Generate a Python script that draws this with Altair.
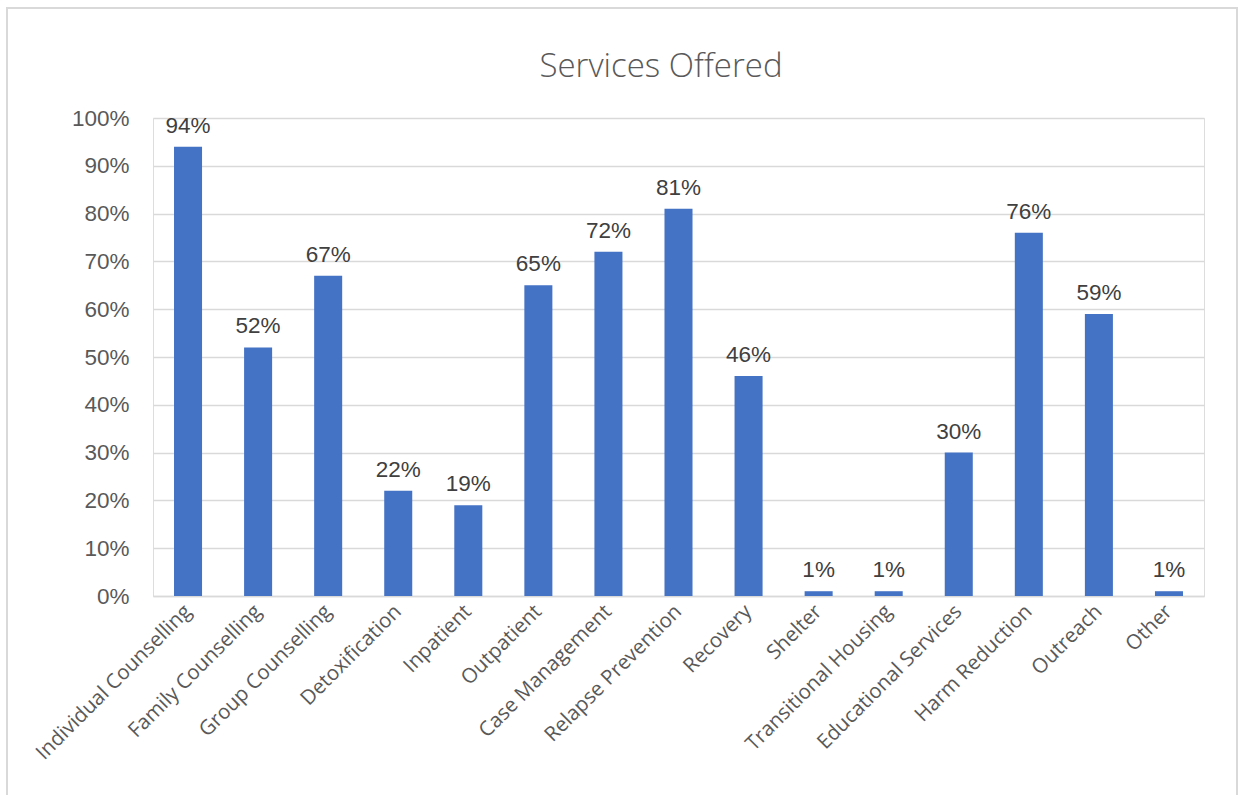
import altair as alt
import pandas as pd

categories = ["Individual Counselling", "Family Counselling", "Group Counselling",
              "Detoxification", "Inpatient", "Outpatient", "Case Management",
              "Relapse Prevention", "Recovery", "Shelter", "Transitional Housing",
              "Educational Services", "Harm Reduction", "Outreach", "Other"]
values = [94, 52, 67, 22, 19, 65, 72, 81, 46, 1, 1, 30, 76, 59, 1]
labels = [f"{v}%" for v in values]
chart_title = "Services Offered"

df = pd.DataFrame({"service": categories, "pct": values, "label": labels})

W, H = 1051, 478
FONT = "Open Sans"
NUMFONT = "Liberation Sans"

x = alt.X("service:N", sort=categories, title=None,
          scale=alt.Scale(paddingInner=0.6, paddingOuter=0.3),
          axis=alt.Axis(labelAngle=-45, labelAlign="right", labelBaseline="middle",
                        labelFontSize=20.5, labelColor="#595959", labelFont=FONT,
                        labelPadding=12, ticks=False, domainColor="#d9d9d9",
                        domainWidth=1.5, grid=False, labelLimit=400))
y = alt.Y("pct:Q", title=None,
          scale=alt.Scale(domain=[0, 100], nice=False),
          axis=alt.Axis(values=list(range(0, 101, 10)), labelExpr="datum.value + '%'",
                        labelFontSize=22.5, labelColor="#595959", labelFont=NUMFONT,
                        labelPadding=24, ticks=False, domain=False,
                        gridColor="#d9d9d9", gridWidth=1.3))

bars = alt.Chart(df).mark_bar(color="#4472C4").encode(x=x, y=y)

text = alt.Chart(df).mark_text(baseline="alphabetic", dy=-14, fontSize=22.5,
                               color="#404040", font=NUMFONT).encode(
    x=alt.X("service:N", sort=categories), y="pct:Q", text="label:N")

border = alt.Chart(df).mark_rect(fill=None, stroke="#d9d9d9", strokeWidth=1.3,
                                 clip=False).encode(
    x=alt.value(-146), x2=alt.value(1084), y=alt.value(-110), y2=alt.value(700))

title = alt.Chart(pd.DataFrame({"t": [chart_title]})).mark_text(
    fontSize=33, font=FONT, color="#595959", fontWeight=300,
    baseline="alphabetic", align="center").encode(
    x=alt.value(508), y=alt.value(-41), text="t:N")

chart = alt.layer(border, bars, text, title).properties(
    width=W, height=H,
    autosize=alt.AutoSizeParams(type="none"),
    padding={"left": 153, "top": 118, "right": 35, "bottom": 199},
).configure_view(stroke=None).configure(background="white")

chart.save("out.html", embed_options={"renderer": "svg", "actions": False})
